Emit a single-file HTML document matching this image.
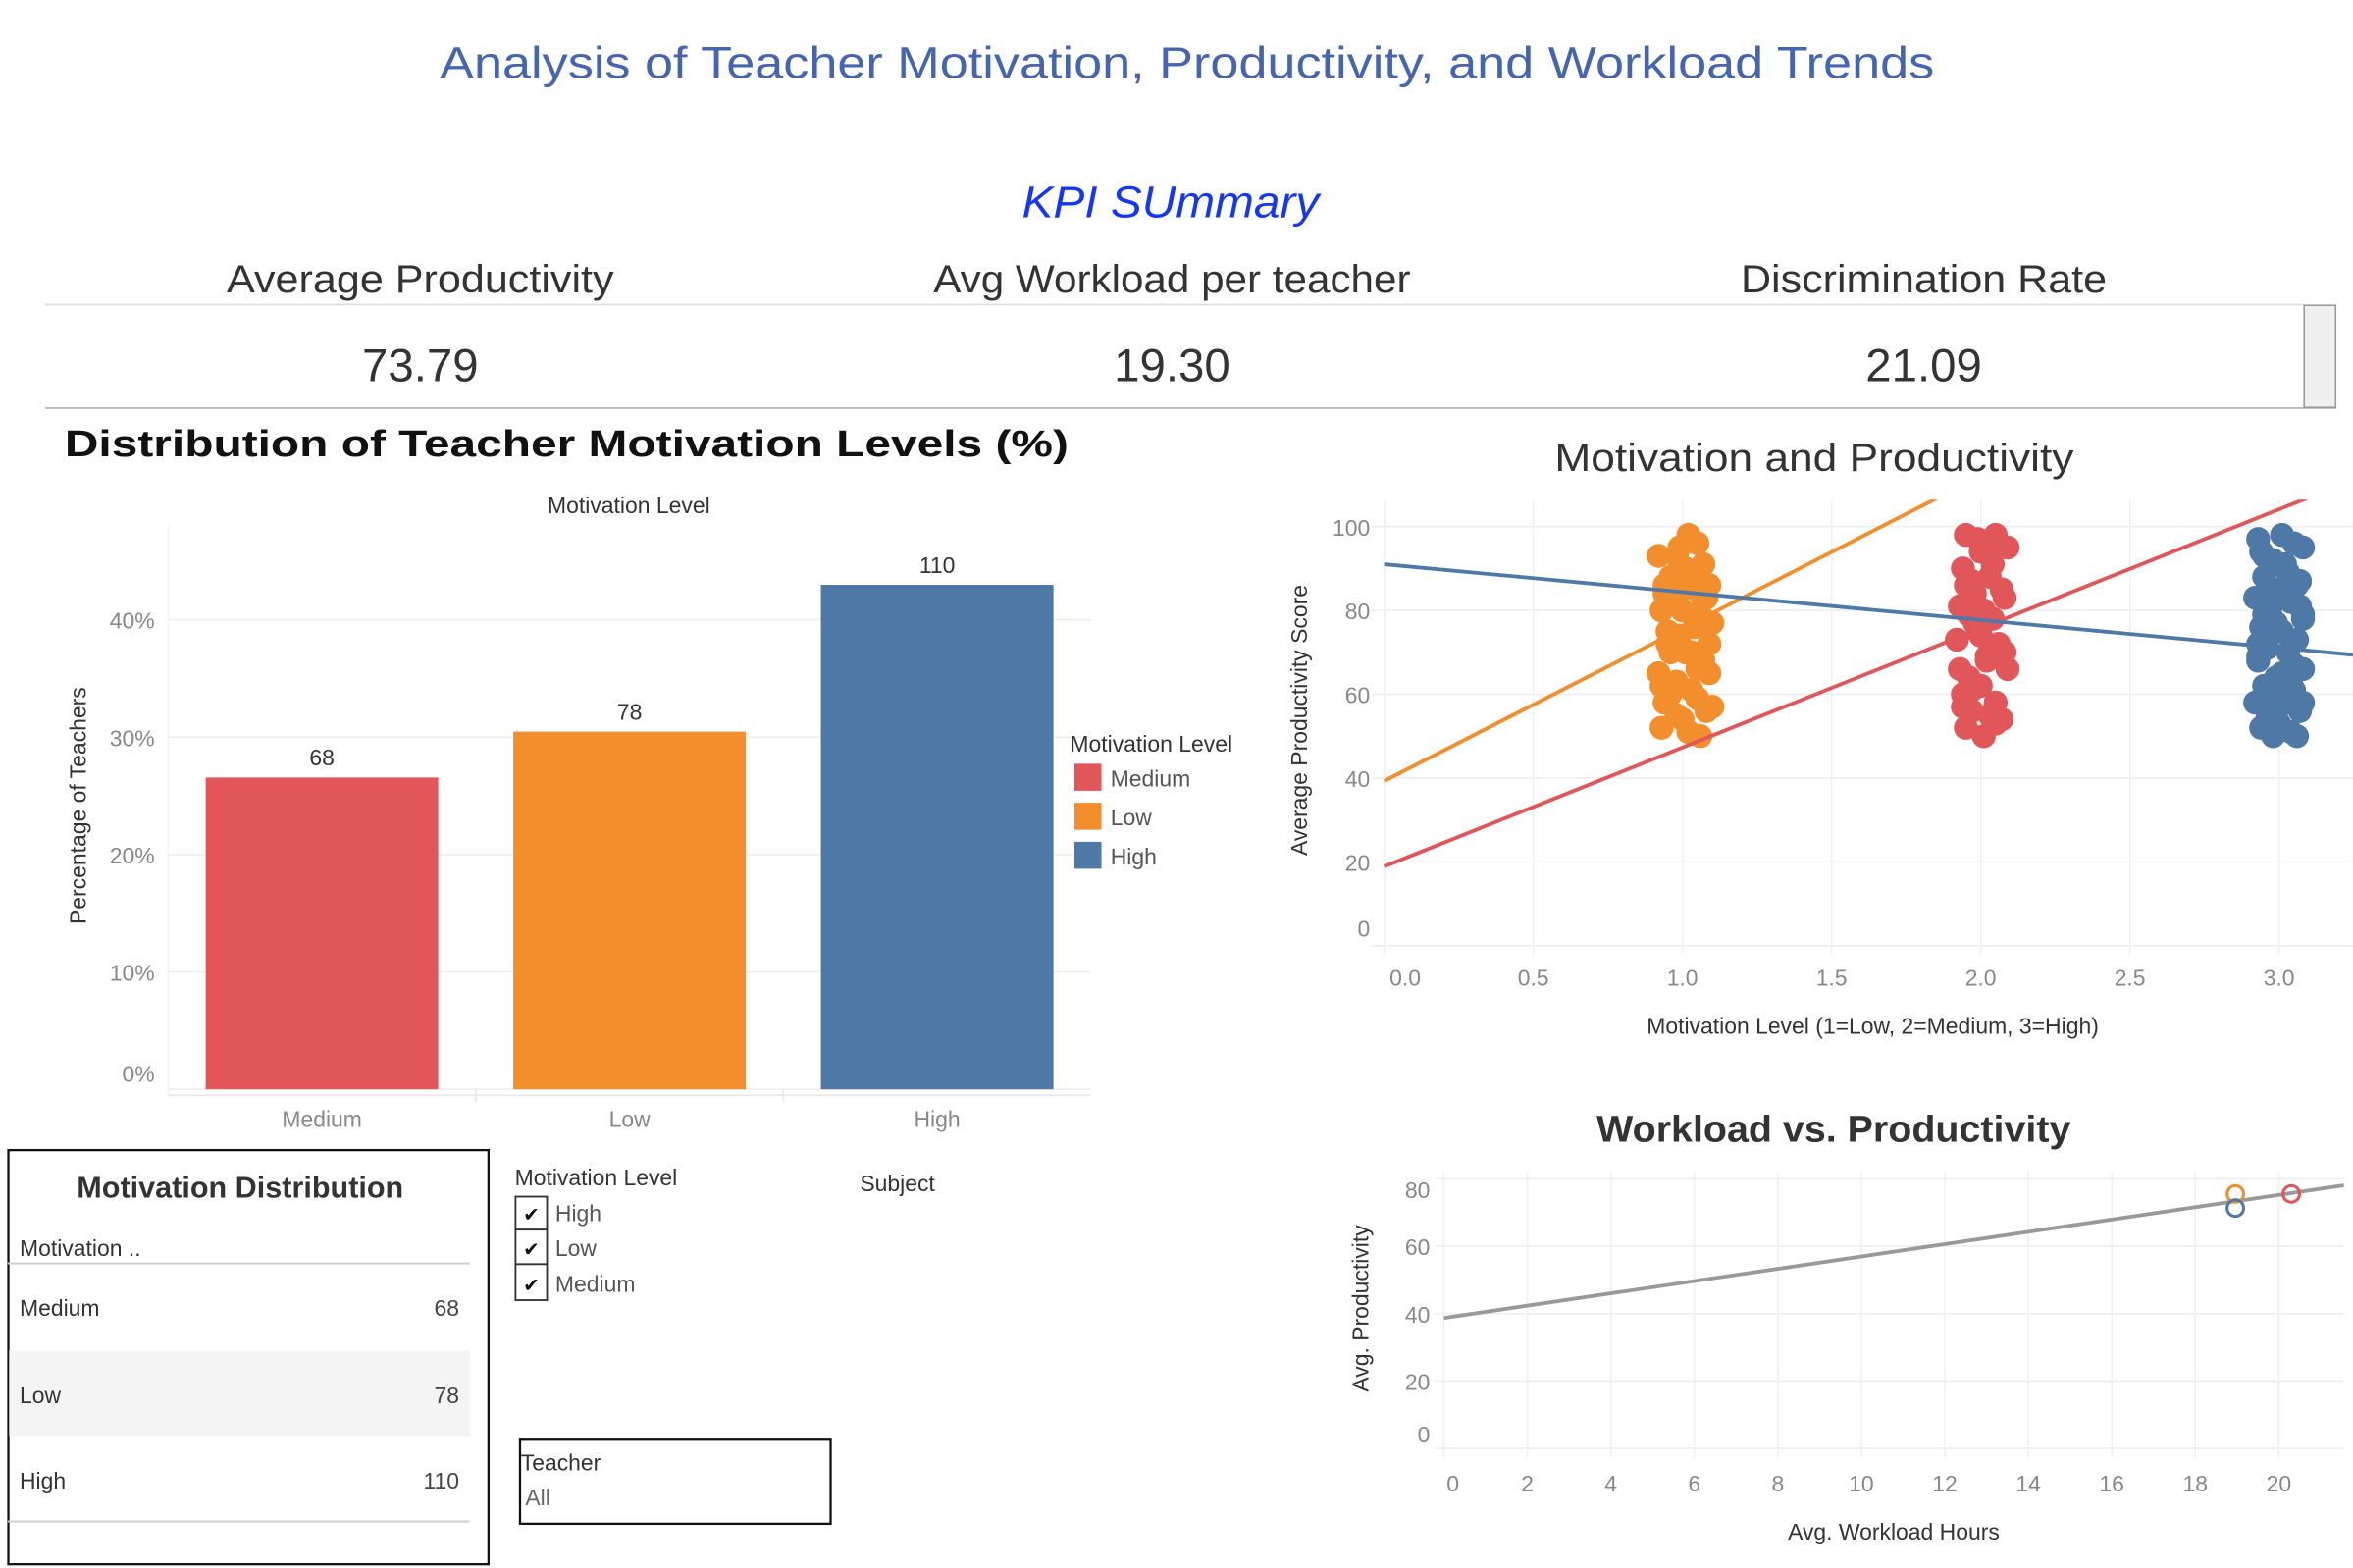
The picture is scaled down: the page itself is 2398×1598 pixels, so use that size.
<!DOCTYPE html>
<html><head><meta charset="utf-8"><style>
html,body{margin:0;padding:0;background:#fff;}
svg{display:block;}
text{font-family:"Liberation Sans","DejaVu Sans",sans-serif;}
</style></head><body>
<svg id="root" width="2398" height="1598" viewBox="0 0 1568 1045" xmlns="http://www.w3.org/2000/svg">
<text x="791" y="52" text-anchor="middle" font-size="30" fill="#4565b3" textLength="996" lengthAdjust="spacingAndGlyphs">Analysis of Teacher Motivation, Productivity, and Workload Trends</text>
<text x="780" y="145" text-anchor="middle" font-size="30" font-style="italic" fill="#1537f5" textLength="198" lengthAdjust="spacingAndGlyphs">KPI SUmmary</text>
<g>
<text x="280" y="195" text-anchor="middle" font-size="26" fill="#333" textLength="258" lengthAdjust="spacingAndGlyphs">Average Productivity</text>
<text x="781" y="195" text-anchor="middle" font-size="26" fill="#333" textLength="318" lengthAdjust="spacingAndGlyphs">Avg Workload per teacher</text>
<text x="1282" y="195" text-anchor="middle" font-size="26" fill="#333" textLength="244" lengthAdjust="spacingAndGlyphs">Discrimination Rate</text>
<line x1="30" y1="203" x2="1535" y2="203" stroke="#ddd" stroke-width="1"/>
<text x="280" y="254" text-anchor="middle" font-size="31" fill="#333">73.79</text>
<text x="781" y="254" text-anchor="middle" font-size="31" fill="#333">19.30</text>
<text x="1282" y="254" text-anchor="middle" font-size="31" fill="#333">21.09</text>
<line x1="30" y1="272" x2="1557" y2="272" stroke="#bbb" stroke-width="1.2"/>
<rect x="1535.5" y="203.5" width="21" height="68" fill="#f0f0f0" stroke="#999"/>
</g>

<text x="43" y="304" font-size="25" font-weight="bold" fill="#111" textLength="669" lengthAdjust="spacingAndGlyphs" font-family="DejaVu Sans, sans-serif">Distribution of Teacher Motivation Levels (%)</text>
<text x="419" y="342" text-anchor="middle" font-size="15" fill="#333">Motivation Level</text>
<g id="bars"></g>
<text transform="translate(57,537) rotate(-90)" text-anchor="middle" font-size="15" fill="#333">Percentage of Teachers</text>
<g>
<text x="713" y="501" font-size="15" fill="#333">Motivation Level</text>
<rect x="716" y="509" width="18" height="18" fill="#e15759"/>
<text x="740" y="524" font-size="15" fill="#555">Medium</text>
<rect x="716" y="535" width="18" height="18" fill="#f28e2b"/>
<text x="740" y="550" font-size="15" fill="#555">Low</text>
<rect x="716" y="561" width="18" height="18" fill="#4e79a7"/>
<text x="740" y="576" font-size="15" fill="#555">High</text>
</g>

<text x="1209" y="314" text-anchor="middle" font-size="26" fill="#333" textLength="346" lengthAdjust="spacingAndGlyphs">Motivation and Productivity</text>
<g id="scatter"></g>
<text transform="translate(871,480) rotate(-90)" text-anchor="middle" font-size="15" fill="#333">Average Productivity Score</text>
<text x="1248" y="689" text-anchor="middle" font-size="15" fill="#333">Motivation Level (1=Low, 2=Medium, 3=High)</text>

<text x="1222" y="761" text-anchor="middle" font-size="25" font-weight="bold" fill="#333" textLength="316" lengthAdjust="spacingAndGlyphs">Workload vs. Productivity</text>
<g id="work"></g>
<text transform="translate(912,872) rotate(-90)" text-anchor="middle" font-size="15" fill="#333">Avg. Productivity</text>
<text x="1262" y="1026" text-anchor="middle" font-size="15" fill="#333">Avg. Workload Hours</text>

<g>
<rect x="5.5" y="766.5" width="320" height="276" fill="none" stroke="#111" stroke-width="1.5"/>
<text x="160" y="798" text-anchor="middle" font-size="20" font-weight="bold" fill="#333">Motivation Distribution</text>
<text x="13" y="837" font-size="15" fill="#333">Motivation ..</text>
<line x1="5" y1="842" x2="313" y2="842" stroke="#ccc" stroke-width="1.2"/>
<rect x="6" y="900" width="307" height="57" fill="#f4f4f4"/>
<text x="13" y="877" font-size="15" fill="#333">Medium</text>
<text x="306" y="877" text-anchor="end" font-size="15" fill="#444">68</text>
<text x="13" y="935" font-size="15" fill="#333">Low</text>
<text x="306" y="935" text-anchor="end" font-size="15" fill="#444">78</text>
<text x="13" y="992" font-size="15" fill="#333">High</text>
<text x="306" y="992" text-anchor="end" font-size="15" fill="#444">110</text>
<line x1="5" y1="1014" x2="313" y2="1014" stroke="#ccc" stroke-width="1.2"/>
</g>

<g>
<text x="343" y="790" font-size="15" fill="#333">Motivation Level</text>
<rect x="343.5" y="797.5" width="21" height="22" fill="#fff" stroke="#333" stroke-width="1.2"/>
<text x="354" y="814" text-anchor="middle" font-size="13" fill="#111">✔</text>
<text x="370" y="814" font-size="15" fill="#555">High</text>
<rect x="343.5" y="819.5" width="21" height="23" fill="#fff" stroke="#333" stroke-width="1.2"/>
<text x="354" y="837" text-anchor="middle" font-size="13" fill="#111">✔</text>
<text x="370" y="837" font-size="15" fill="#555">Low</text>
<rect x="343.5" y="842.5" width="21" height="24" fill="#fff" stroke="#333" stroke-width="1.2"/>
<text x="354" y="861" text-anchor="middle" font-size="13" fill="#111">✔</text>
<text x="370" y="861" font-size="15" fill="#555">Medium</text>
</g>
<text x="573" y="794" font-size="15" fill="#333">Subject</text>
<g>
<rect x="346.5" y="959.5" width="207" height="56" fill="#fff" stroke="#111" stroke-width="1.5"/>
<text x="347" y="980" font-size="15" fill="#333">Teacher</text>
<text x="350" y="1003" font-size="15" fill="#666">All</text>
</g>
</svg>
<script>
const NS='http://www.w3.org/2000/svg';
function mk(parent,tag,attrs){const e=document.createElementNS(NS,tag);for(const k in attrs)e.setAttribute(k,attrs[k]);parent.appendChild(e);return e;}

const barCategories=['Medium','Low','High'];
const barCounts=[68,78,110];
const barColors=['#e15759','#f28e2b','#4e79a7'];
const barTicks=[0,10,20,30,40];
(function(){
  const g=document.getElementById('bars');
  const x0=112,x1=727,yBase=726,pxPer=7.825;
  const ys=v=>yBase-v*pxPer;
  const total=barCounts.reduce((a,b)=>a+b,0);
  barTicks.forEach(t=>{
    const gl=mk(g,'line',{x1:x0,x2:x1,y1:ys(t),y2:ys(t),stroke:'#eee'});
    
    const ty=t===0?ys(t)-5:ys(t)+6;
    const tl=mk(g,'text',{x:103,y:ty,'text-anchor':'end','font-size':15,fill:'#888'});
    tl.textContent=t+'%';
    
  });
  mk(g,'line',{x1:x0,x2:x0,y1:350,y2:730,stroke:'#f2f2f2'});
  const band=(x1-x0)/barCategories.length;
  barCategories.forEach((c,i)=>{
    const pct=barCounts[i]/total*100;
    const bx=x0+band*i+25,bw=band-50;
    const r=mk(g,'rect',{x:bx,y:ys(pct),width:bw,height:yBase-ys(pct),fill:barColors[i]});
    
    const v=mk(g,'text',{x:bx+bw/2,y:ys(pct)-8,'text-anchor':'middle','font-size':15,fill:'#333'});
    v.textContent=barCounts[i];
    
    const l=mk(g,'text',{x:bx+bw/2,y:751,'text-anchor':'middle','font-size':15,fill:'#888'});
    l.textContent=c;
    
    if(i>0){mk(g,'line',{x1:x0+band*i,x2:x0+band*i,y1:726,y2:734,stroke:'#e6e6e6'});}
  });
  mk(g,'line',{x1:x0,x2:x1,y1:730,y2:730,stroke:'#e6e6e6'});
})();

const scatterXTicks=[0,0.5,1,1.5,2,2.5,3];
const scatterYTicks=[0,20,40,60,80,100];
const lowX=[1.02,1.05,0.98,1.07,0.92,0.96,1.09,1.03,0.94,1.06,0.97,1.08,1.0,0.93,1.04,0.99,1.1,0.95,1.01,1.07,0.92,1.05,0.98,1.09,0.96,1.03,0.94,1.08,1.0,0.93,1.06,1.02,0.97,1.1,0.95,1.04,0.99,1.01,0.94,1.07,1.03,0.96,1.05,0.98,1.09,1.0,0.93,1.06];
const lowY=[98,96,93,91,93,88,86,89,86,84,82,83,80,80,76,74,77,72,70,68,65,66,63,65,60,61,58,56,54,52,50,51,62,57,75,79,95,90,84,78,70,70,59,55,72,85,62,67];
const medX=[1.95,2.05,2.09,2.0,1.94,1.97,2.03,2.07,1.93,2.01,2.08,1.98,2.04,1.92,2.06,1.99,2.02,1.96,2.08,1.94,2.05,2.0,1.97,2.03,1.95,2.07,2.01,1.93,2.06,1.98,1.96,2.04,2.0,1.95,2.09,2.02,1.97,2.05,1.99,1.94];
const medY=[98,98,95,94,90,87,88,85,81,80,83,77,78,73,72,75,68,64,70,60,58,62,56,55,52,54,50,66,95,84,79,91,74,86,66,69,61,53,97,57];
const highX=[2.93,3.05,3.08,2.98,3.02,2.95,3.07,3.0,2.92,3.04,2.97,3.08,2.94,3.01,3.06,2.96,3.03,2.93,3.08,2.99,2.95,3.05,3.02,2.92,3.07,2.97,3.0,2.94,3.04,3.06,2.96,3.01,2.93,3.08,2.98,3.03,2.95,3.05,3.0,2.97,2.94,3.02,3.07,2.99,2.93,3.04,3.06,2.96,3.01,2.98,3.08,2.95];
const highY=[97,96,95,92,90,88,87,85,83,82,80,78,76,75,73,71,70,68,66,64,62,61,59,58,56,55,53,52,51,50,60,65,72,79,84,89,93,67,57,74,94,91,81,77,69,63,86,54,98,50,58,79];
(function(){})();
const trendSlope=[36.4,28.4,-6.65];
const trendIntercept=[39.3,18.9,91.0];
(function(){
  const g=document.getElementById('scatter');
  const X0=922.4,pxX=198.8,Y0=630.3,pxY=2.794,left=922,right=1568,top=333;
  const xs=v=>X0+v*pxX, ys=v=>Y0-v*pxY;
  scatterYTicks.forEach(t=>{
    const gl=mk(g,'line',{x1:left-8,x2:right,y1:ys(t),y2:ys(t),stroke:'#eeeeee'});
    
    const tl=mk(g,'text',{x:913,y:t===0?ys(t)-6:ys(t)+6,'text-anchor':'end','font-size':15,fill:'#888'});
    tl.textContent=t;
    
  });
  scatterXTicks.forEach(t=>{
    mk(g,'line',{x1:xs(t),x2:xs(t),y1:top,y2:Y0+6,stroke:'#f0f0f0'});
    const tl=mk(g,'text',{x:xs(t)+(t===0?14:0),y:657,'text-anchor':'middle','font-size':15,fill:'#888'});
    tl.textContent=t.toFixed(1);
    
  });
  const groups=[[lowX,lowY,'#f28e2b','low'],[medX,medY,'#e15759','medium'],[highX,highY,'#4e79a7','high']];
  groups.forEach(([gx,gy,col,nm])=>{
    gx.forEach((xv,i)=>{
      const c=mk(g,'circle',{cx:xs(xv),cy:ys(gy[i]),r:8,fill:col});
      
    });
  });
  const cp=mk(g,'clipPath',{id:'scClip'});mk(cp,'rect',{x:left,y:top,width:right-left,height:Y0-top});
  ['#f28e2b','#e15759','#4e79a7'].forEach((col,i)=>{
    const xe=3.3;
    const l=mk(g,'line',{x1:xs(0),y1:ys(trendIntercept[i]),x2:xs(xe),y2:ys(trendIntercept[i]+trendSlope[i]*xe),stroke:col,'stroke-width':2.5,'clip-path':'url(#scClip)'});
    
  });
})();

const workXTicks=[0,2,4,6,8,10,12,14,16,18,20];
const workYTicks=[0,20,40,60,80];
const workHours=[18.96,18.96,20.3];
const workProd=[75.5,71.3,75.5];
const workColors=['#f28e2b','#4e79a7','#e15759'];
const workTrend=[1.826,38.7];
(function(){
  const g=document.getElementById('work');
  const X0=962.2,pxX=27.82,Y0=965.3,pxY=2.246,right=1562,top=781;
  const xs=v=>X0+v*pxX, ys=v=>Y0-v*pxY;
  workYTicks.forEach(t=>{
    const gl=mk(g,'line',{x1:X0-6,x2:right,y1:ys(t),y2:ys(t),stroke:'#eeeeee'});
    
    const ty=t===0?ys(t)-4:(t===80?ys(t)+13:ys(t)+6);
    const tl=mk(g,'text',{x:953,y:ty,'text-anchor':'end','font-size':15,fill:'#888'});
    tl.textContent=t;
    
  });
  workXTicks.forEach(t=>{
    mk(g,'line',{x1:xs(t),x2:xs(t),y1:top,y2:Y0+6,stroke:'#f0f0f0'});
    const tl=mk(g,'text',{x:xs(t)+(t===0?6:0),y:994,'text-anchor':'middle','font-size':15,fill:'#888'});
    tl.textContent=t;
    
  });
  const xe=(right-X0)/pxX;
  const tl=mk(g,'line',{x1:xs(0),y1:ys(workTrend[1]),x2:xs(xe),y2:ys(workTrend[1]+workTrend[0]*xe),stroke:'#999','stroke-width':2.5});
  
  workHours.forEach((h,i)=>{
    const c=mk(g,'circle',{cx:xs(h),cy:ys(workProd[i]),r:5.5,fill:'none',stroke:workColors[i],'stroke-width':2});
    
  });
})();
</script>
</body></html>
